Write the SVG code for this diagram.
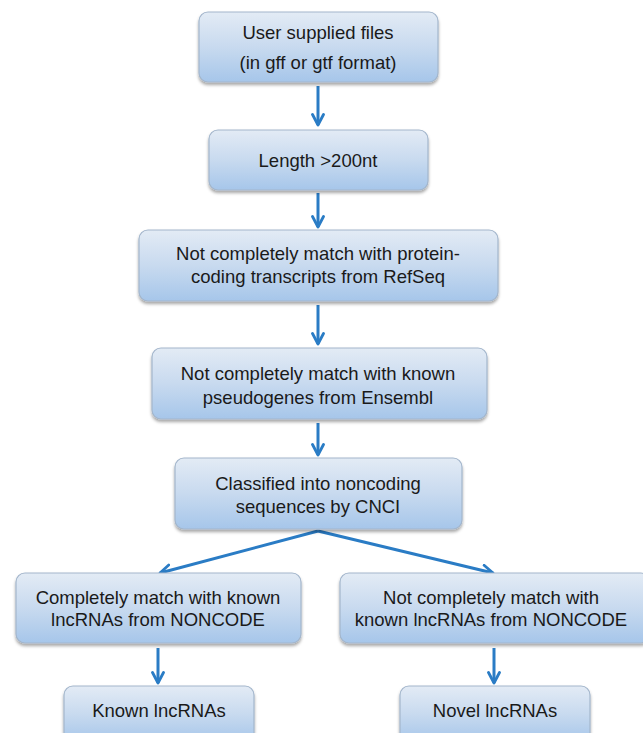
<svg xmlns="http://www.w3.org/2000/svg" width="643" height="733" viewBox="0 0 643 733">
<defs>
<linearGradient id="g" x1="0" y1="0" x2="0" y2="1">
<stop offset="0" stop-color="#e3ebf5"/>
<stop offset="0.5" stop-color="#c8daef"/>
<stop offset="1" stop-color="#a6c6ea"/>
</linearGradient>
<filter id="sh" x="-10%" y="-10%" width="120%" height="130%">
<feDropShadow dx="0" dy="2.5" stdDeviation="1.8" flood-color="#000" flood-opacity="0.35"/>
</filter>
<marker id="ah" viewBox="0 0 14 14" refX="12" refY="7" markerWidth="14" markerHeight="14" markerUnits="userSpaceOnUse" orient="auto">
<path d="M1.5,1.5 L12,7 L1.5,12.5" fill="none" stroke="#2a7cc5" stroke-width="2.8" stroke-linecap="round" stroke-linejoin="round"/>
</marker>
</defs>
<style>
.box{fill:url(#g);stroke:#a3b6cc;stroke-width:1.2;filter:url(#sh)}
.t{font-family:"Liberation Sans",Arial,sans-serif;font-size:18.5px;fill:#1a1a1a;text-anchor:middle}
.c{stroke:#2a7cc5;stroke-width:3;fill:none;marker-end:url(#ah)}
</style>
<g id="connectors">
<line class="c" x1="318" y1="86" x2="318" y2="125"/>
<line class="c" x1="318" y1="193" x2="318" y2="227"/>
<line class="c" x1="318" y1="305" x2="318" y2="344"/>
<line class="c" x1="318" y1="423" x2="318" y2="455"/>
<polyline class="c" points="318,531 160,573"/>
<polyline class="c" points="318,531 493,573"/>
<line class="c" x1="158" y1="648" x2="158" y2="683"/>
<line class="c" x1="494" y1="648" x2="494" y2="683"/>
</g>
<g id="n1"><rect class="box" x="199" y="12" width="239" height="70" rx="9"/>
<text class="t" x="318" y="39">User supplied files</text>
<text class="t" x="318" y="69">(in gff or gtf format)</text></g>
<g id="n2"><rect class="box" x="209" y="130" width="219" height="60" rx="9"/>
<text class="t" x="318" y="167">Length &gt;200nt</text></g>
<g id="n3"><rect class="box" x="139" y="230" width="359" height="71" rx="9"/>
<text class="t" x="318" y="260">Not completely match with protein-</text>
<text class="t" x="318" y="283">coding transcripts from RefSeq</text></g>
<g id="n4"><rect class="box" x="152" y="348" width="335" height="71" rx="9"/>
<text class="t" x="318" y="380">Not completely match with known</text>
<text class="t" x="318" y="404">pseudogenes from Ensembl</text></g>
<g id="n5"><rect class="box" x="175" y="458" width="287" height="71" rx="9"/>
<text class="t" x="318" y="490">Classified into noncoding</text>
<text class="t" x="318" y="513">sequences by CNCI</text></g>
<g id="n6"><rect class="box" x="16" y="573" width="285" height="70" rx="9"/>
<text class="t" x="158" y="604">Completely match with known</text>
<text class="t" x="158" y="626">lncRNAs from NONCODE</text></g>
<g id="n7"><rect class="box" x="340" y="573" width="310" height="70" rx="9"/>
<text class="t" x="491" y="604">Not completely match with</text>
<text class="t" x="491" y="626">known lncRNAs from NONCODE</text></g>
<g id="n8"><rect class="box" x="64" y="686" width="190" height="56" rx="9"/>
<text class="t" x="159" y="717">Known lncRNAs</text></g>
<g id="n9"><rect class="box" x="400" y="686" width="190" height="56" rx="9"/>
<text class="t" x="495" y="717">Novel lncRNAs</text></g>
</svg>
